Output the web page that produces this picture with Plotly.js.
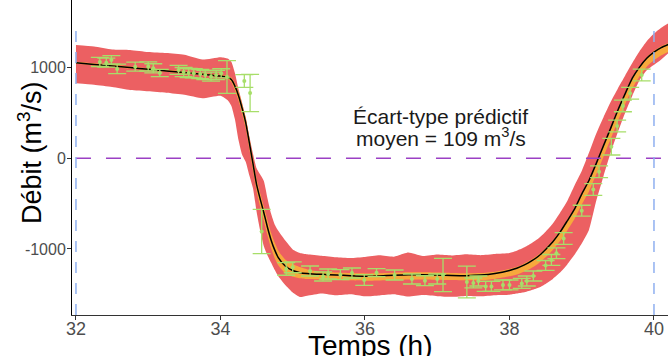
<!DOCTYPE html>
<html>
<head>
<meta charset="utf-8">
<script src="https://cdn.plot.ly/plotly-3.0.1.min.js"></script>
<style>
  html, body { margin: 0; padding: 0; background: #fff; }
  #chart { width: 668px; height: 356px; }
</style>
</head>
<body>
<div id="chart"></div>
<script>
// Time grid (h)
const time = [32.0, 32.25, 32.5, 32.75, 33.0, 33.25, 33.5, 33.75, 34.0,
  34.1, 34.15, 34.2, 34.25, 34.3, 34.35, 34.4, 34.45, 34.5, 34.55, 34.6, 34.65, 34.7, 34.75, 34.8,
  34.9, 35.0, 35.1, 35.2,
  35.4, 35.6, 35.8, 36.0, 36.2, 36.4, 36.6, 36.8, 37.0, 37.2, 37.4, 37.6, 37.8,
  38.0, 38.1, 38.2, 38.3, 38.4, 38.5, 38.6, 38.7, 38.8, 38.9, 39.0, 39.1, 39.2, 39.3, 39.4,
  39.5, 39.6, 39.7, 39.8, 39.9, 40.0, 40.1, 40.2];

// Mean predicted discharge (black line)
const meanQ = [1053, 1035, 1018, 1000, 981, 963, 945, 926, 907,
  893, 868, 795, 690, 550, 390, 170, -60, -290, -450, -600, -760, -900, -1010, -1095,
  -1190, -1238, -1261, -1270,
  -1280, -1287, -1295, -1300, -1297, -1290, -1284, -1284, -1288, -1292, -1294, -1288, -1270,
  -1237, -1213, -1178, -1135, -1080, -1005, -920, -815, -690, -560, -395, -245, -59, 137, 330,
  530, 710, 883, 1005, 1102, 1170, 1220, 1255];

// Predictive interval (red band)
const predHi = [1249, 1232, 1200, 1195, 1172, 1160, 1140, 1088, 1115,
  1100, 1065, 940, 760, 610, 450, 240, 50, -110, -180, -250, -440, -610, -730, -800,
  -910, -1005, -1044, -1058,
  -1075, -1092, -1100, -1088, -1070, -1085, -1040, -1078, -1062, -1072, -1058, -1068, -1055,
  -1045, -1020, -985, -940, -885, -810, -720, -600, -470, -300, -140, 60, 270, 450, 620,
  770, 910, 1050, 1180, 1290, 1375, 1440, 1490];
const predLo = [827, 810, 785, 752, 738, 722, 700, 662, 690,
  640, 580, 430, 200, 40, -40, -190, -330, -590, -800, -970, -1070, -1150, -1230, -1300,
  -1400, -1480, -1530, -1515,
  -1490, -1510, -1500, -1522, -1512, -1500, -1525, -1508, -1520, -1528, -1518, -1522, -1510,
  -1505, -1492, -1478, -1455, -1428, -1385, -1330, -1260, -1170, -1065, -940, -790, -470, -200, 60,
  290, 500, 690, 860, 970, 1030, 1090, 1160];

// Credible interval of the mean (orange band)
const ciHi = [1065, 1047, 1030, 1012, 993, 975, 957, 938, 920,
  908, 890, 830, 735, 600, 445, 230, 0, -225, -385, -530, -680, -820, -930, -1020,
  -1120, -1165, -1200, -1225,
  -1252, -1260, -1266, -1270, -1268, -1262, -1257, -1257, -1260, -1265, -1268, -1265, -1250,
  -1220, -1197, -1162, -1120, -1065, -992, -905, -800, -675, -545, -380, -230, -45, 150, 345,
  545, 725, 895, 1018, 1115, 1185, 1235, 1270];
const ciLo = [1042, 1024, 1007, 989, 970, 952, 934, 915, 896,
  878, 840, 750, 635, 490, 325, 100, -135, -365, -535, -690, -850, -990, -1100, -1180,
  -1270, -1305, -1322, -1332,
  -1338, -1342, -1346, -1350, -1347, -1342, -1336, -1336, -1339, -1343, -1346, -1345, -1330,
  -1302, -1282, -1250, -1212, -1160, -1092, -1010, -912, -795, -670, -510, -365, -180, 15, 210,
  410, 595, 770, 905, 1010, 1080, 1135, 1175];

// Observations (green points with error bars)
const obsT = [32.33, 32.42, 32.49, 32.57, 32.82, 33.00, 33.07, 33.16, 33.42, 33.49, 33.56, 33.63,
  33.72, 33.79, 33.87, 33.94, 34.01, 34.09, 34.33, 34.41,
  34.57, 34.91, 35.00, 35.24, 35.42, 35.49, 35.66, 35.82, 35.99, 36.16, 36.41, 36.65, 36.83,
  37.00, 37.08, 37.41, 37.50, 37.57, 37.67, 37.75, 37.91, 38.00, 38.17, 38.24, 38.33,
  38.50, 38.58, 38.65, 38.75, 39.00, 39.16, 39.24, 39.41, 39.49, 39.57, 39.67, 39.83];
const obsQ = [1062, 1054, 1084, 985, 1010, 1012, 992, 940, 974, 951, 940, 937,
  929, 918, 900, 918, 937, 896, 852, 720,
  -807, -1220, -1202, -1243, -1303, -1276, -1283, -1265, -1342, -1261, -1287, -1331, -1350,
  -1331, -1287, -1364, -1375, -1353, -1413, -1413, -1397, -1397, -1380, -1353, -1298,
  -1182, -1121, -1047, -884, -578, -344, -148, 128, 356, 577, 717, 918];
const obsErr = [50, 50, 47, 52, 50, 50, 50, 40, 50, 50, 50, 50,
  50, 50, 50, 50, 50, 180, 70, 206,
  244, 70, 60, 55, 50, 55, 55, 55, 60, 45, 55, 55, 55,
  55, 184, 175, 55, 55, 55, 55, 55, 55, 55, 55, 55,
  55, 60, 60, 65, 60, 65, 65, 92, 65, 64, 64, 64];

const xTicks = [32, 34, 36, 38, 40];
const yTicks = [-1000, 0, 1000];
const yTickText = ['-1000', '0', '1000'];

const RED = '#EC6062';
const ORANGE = '#F7A93C';
const GREEN = '#A7DE69';

const traces = [
  { x: time, y: predLo, type: 'scatter', mode: 'lines', line: { width: 0, shape: 'spline', smoothing: 0.5 },
    hoverinfo: 'skip', showlegend: false },
  { x: time, y: predHi, type: 'scatter', mode: 'lines', fill: 'tonexty', fillcolor: RED,
    line: { width: 0, shape: 'spline', smoothing: 0.5 }, hoverinfo: 'skip', showlegend: false },
  { x: time, y: ciLo, type: 'scatter', mode: 'lines', line: { width: 0, shape: 'spline', smoothing: 0.5 },
    hoverinfo: 'skip', showlegend: false },
  { x: time, y: ciHi, type: 'scatter', mode: 'lines', fill: 'tonexty', fillcolor: ORANGE,
    line: { width: 0, shape: 'spline', smoothing: 0.5 }, hoverinfo: 'skip', showlegend: false },
  { x: time, y: meanQ, type: 'scatter', mode: 'lines',
    line: { color: '#000000', width: 1.5, shape: 'spline', smoothing: 0.5 }, showlegend: false },
  { x: obsT, y: obsQ, type: 'scatter', mode: 'markers',
    marker: { color: GREEN, size: 4 },
    error_y: { type: 'data', array: obsErr, visible: true, color: GREEN, thickness: 1.3, width: 9 },
    showlegend: false }
];

const FONT = 'Liberation Sans, Arial, sans-serif';

const layout = {
  width: 668, height: 356,
  margin: { l: 72, r: 0, t: 0, b: 41, pad: 0 },
  paper_bgcolor: '#ffffff', plot_bgcolor: '#ffffff',
  font: { family: FONT, color: '#000' },
  showlegend: false,
  xaxis: {
    range: [31.945, 40.194], tickvals: xTicks, ticktext: xTicks.map(String),
    ticks: 'outside', ticklen: 4, tickwidth: 1, tickcolor: '#333',
    tickfont: { family: FONT, size: 18, color: '#4d4d4d' },
    ticklabelstandoff: -7,
    showline: true, linecolor: '#333', linewidth: 1,
    showgrid: false, zeroline: false, automargin: false
  },
  yaxis: {
    range: [-1728, 1745], tickvals: yTicks, ticktext: yTickText,
    ticks: 'outside', ticklen: 4, tickwidth: 1, tickcolor: '#333',
    tickfont: { family: FONT, size: 16, color: '#4d4d4d' },
    ticklabelstandoff: -2,
    showline: true, linecolor: '#000', linewidth: 1,
    showgrid: false, zeroline: false, automargin: false
  },
  shapes: [
    { type: 'line', xref: 'x', yref: 'y', x0: 32, x1: 40.194, y0: 0, y1: 0,
      line: { color: '#9B40C4', width: 1.3, dash: '15px,15px' } },
    { type: 'line', xref: 'x', yref: 'y', x0: 32, x1: 32, y0: -1728, y1: 1470,
      line: { color: '#8FB0F0', width: 1.5, dash: '11px,10px' } },
    { type: 'line', xref: 'x', yref: 'y', x0: 40, x1: 40, y0: -1728, y1: 1470,
      line: { color: '#8FB0F0', width: 1.5, dash: '11px,10px' } }
  ],
  annotations: [
    { xref: 'x', yref: 'y', x: 37.05, y: 466, showarrow: false,
      text: 'Écart-type prédictif', xanchor: 'center', yanchor: 'middle',
      font: { family: FONT, size: 21, color: '#1a1a1a' } },
    { xref: 'x', yref: 'y', x: 37.05, y: 235, showarrow: false,
      text: 'moyen = 109 m<sup>3</sup>/s', xanchor: 'center', yanchor: 'middle',
      font: { family: FONT, size: 21, color: '#1a1a1a' } },
    { xref: 'paper', yref: 'paper', x: (370 - 72) / 596, y: (315 - 345) / 315,
      xanchor: 'center', yanchor: 'middle', showarrow: false,
      text: 'Temps (h)', font: { family: FONT, size: 28, color: '#000' } },
    { xref: 'paper', yref: 'paper', x: (30 - 72) / 596, y: (315 - 153) / 315,
      xanchor: 'center', yanchor: 'middle', showarrow: false, textangle: -90,
      text: 'Débit (m<sup>3</sup>/s)', font: { family: FONT, size: 27, color: '#000' } }
  ]
};

Plotly.newPlot('chart', traces, layout, { staticPlot: true, displayModeBar: false });
</script>
</body>
</html>
